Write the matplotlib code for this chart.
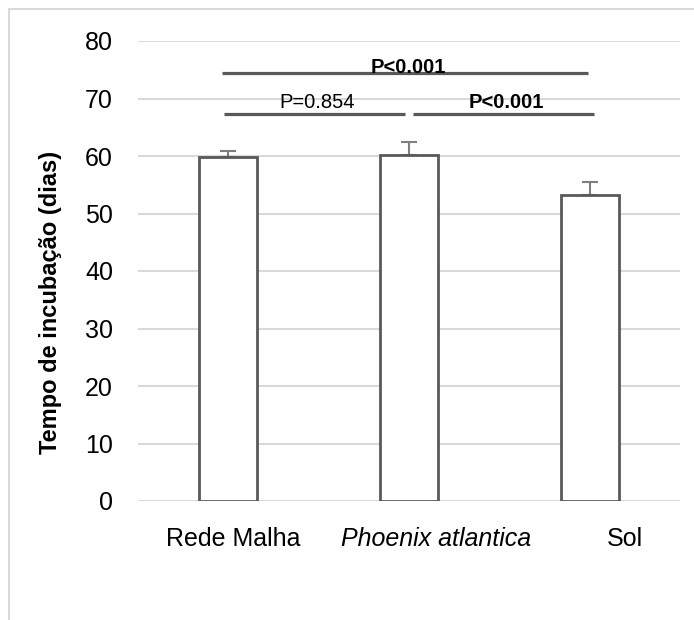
import numpy as np
import matplotlib
matplotlib.use('Agg')
import matplotlib.pyplot as plt
from matplotlib.transforms import ScaledTranslation
from matplotlib.patches import Rectangle

categories = ['Rede Malha', 'Phoenix atlantica', 'Sol']
means      = [59.8, 60.2, 53.3]
errors     = [1.1, 2.2, 2.2]

# comparisons: (left x, right x, y level, label, bold)
comparisons = [
    (-0.033, 1.99, 74.4, 'P<0.001', True),
    (-0.022, 0.98, 67.3, 'P=0.854', False),
    (1.024, 2.025, 67.3, 'P<0.001', True),
]

plt.rcParams['font.family'] = ['Liberation Sans', 'DejaVu Sans']

fig = plt.figure(figsize=(6.94, 6.2), dpi=100)
fig.patches.append(Rectangle((9/694, -0.1), 1.2, 1 - 9/620 + 0.1,
                             transform=fig.transFigure, fill=False,
                             edgecolor='#d9d9d9', lw=1.5))
ax = fig.add_axes([138/694, 1 - 501/620, 542/694, 460/620])

x = np.arange(len(categories))
ax.bar(x, means, width=0.32, color='white', edgecolor='#595959', linewidth=2.0, zorder=3)
ax.errorbar(x, means, yerr=[np.zeros(3), errors], fmt='none', ecolor='#7f7f7f',
            elinewidth=1.5, capsize=5.5, capthick=1.5, zorder=2)

for i, (x1, x2, yv, label, bold) in enumerate(comparisons):
    ax.plot([x1, x2], [yv, yv], color='#595959', lw=2.3, solid_capstyle='butt', zorder=4)
    dy = 0 if i == 0 else 1.0
    ax.text((x1 + x2) / 2 + 0.015, yv + dy, label, ha='center', va='baseline', fontsize=14.5,
            fontweight='bold' if bold else 'normal', zorder=5)

ax.set_xlim(-0.5, 2.5)
ax.set_ylim(0, 80)
ax.set_yticks(range(0, 81, 10))
ax.yaxis.grid(True, color='#d9d9d9', lw=1.5)
ax.set_axisbelow(True)
for s in ax.spines.values():
    s.set_visible(False)
ax.tick_params(axis='both', length=0, labelsize=18)
ax.tick_params(axis='y', pad=18)
ax.tick_params(axis='x', pad=19)

ax.set_xticks(x)
ax.set_xticklabels(categories)
shifts = [5, 27, 35]
for lab, dx in zip(ax.get_xticklabels(), shifts):
    lab.set_transform(lab.get_transform() + ScaledTranslation(dx / 100, 0, fig.dpi_scale_trans))
ax.get_xticklabels()[1].set_style('italic')

ax.set_ylabel('Tempo de incubação (dias)', fontsize=17, fontweight='bold')
ax.yaxis.set_label_coords(62/694, 1 - 302/620, transform=fig.transFigure)

fig.savefig('out.png', dpi=100)
